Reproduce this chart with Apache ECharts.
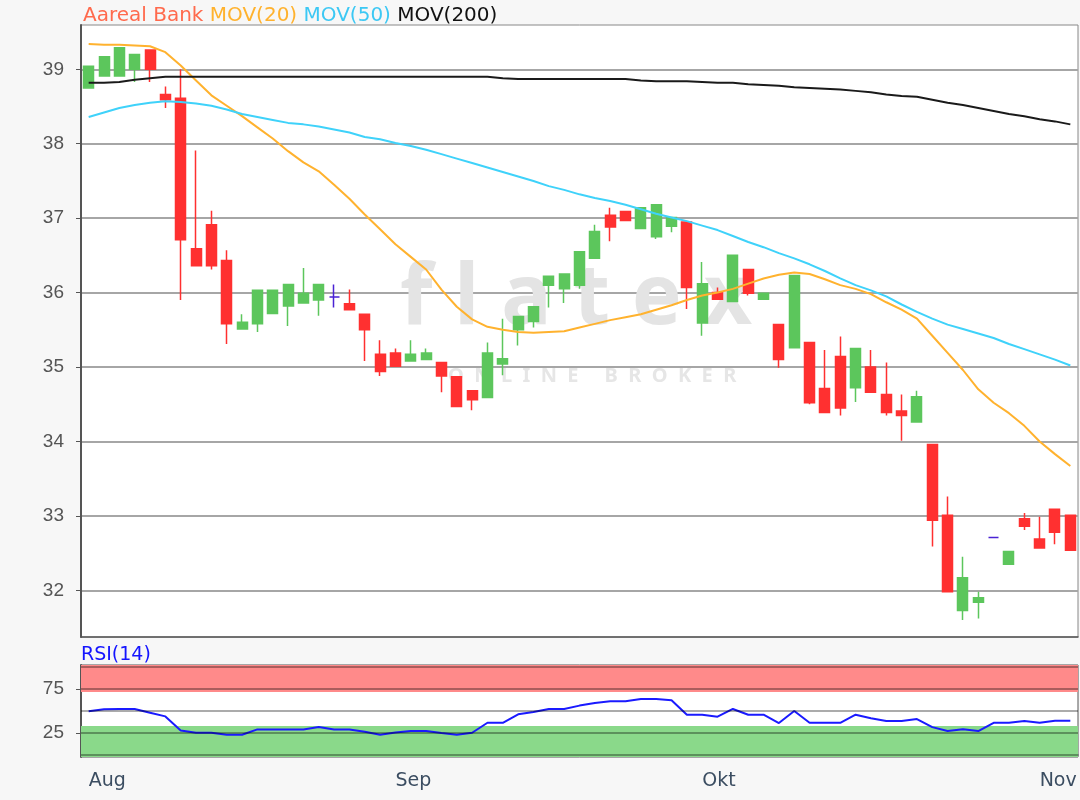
<!DOCTYPE html>
<html>
<head>
<meta charset="utf-8">
<script src="https://cdn.jsdelivr.net/npm/echarts@6/dist/echarts.min.js"></script>
<style>
  html, body { margin: 0; padding: 0; background: #f7f7f7; }
  #chart { width: 1080px; height: 800px; }
</style>
</head>
<body>
<div id="chart"></div>
<script>
// trading days shown (dd.mm.)
const dates = [
  '06.08.','07.08.','08.08.','09.08.','10.08.','13.08.','14.08.','15.08.','16.08.','17.08.',
  '20.08.','21.08.','22.08.','23.08.','24.08.','27.08.','28.08.','29.08.','30.08.','31.08.',
  '03.09.','04.09.','05.09.','06.09.','07.09.','10.09.','11.09.','12.09.','13.09.','14.09.',
  '17.09.','18.09.','19.09.','20.09.','21.09.','24.09.','25.09.','26.09.','27.09.','28.09.',
  '01.10.','02.10.','04.10.','05.10.','08.10.','09.10.','10.10.','11.10.','12.10.','15.10.',
  '16.10.','17.10.','18.10.','19.10.','22.10.','23.10.','24.10.','25.10.','26.10.','29.10.',
  '30.10.','31.10.','01.11.','02.11.','05.11.'
];
const monthNames = { '08': 'Aug', '09': 'Sep', '10': 'Okt', '11': 'Nov' };

const opens = [
  38.75, 38.91, 38.91, 39.00, 39.26, 38.66, 38.61, 36.59, 36.91, 36.43,
  35.51, 35.58, 35.72, 35.82, 35.86, 35.90, 35.94, 35.85, 35.71, 35.17,
  35.19, 35.08, 35.10, 35.06, 34.87, 34.68, 34.59, 35.04, 35.50, 35.61,
  36.10, 36.05, 36.10, 36.46, 37.04, 37.09, 36.86, 36.75, 36.89, 36.95,
  35.59, 36.00, 35.88, 36.31, 35.91, 35.57, 35.26, 35.33, 34.71, 35.14,
  34.72, 35.00, 34.63, 34.41, 34.26, 33.96, 33.01, 31.73, 31.84, 32.71,
  32.35, 32.96, 32.69, 33.09, 33.01
];
const closes = [
  39.04, 39.17, 39.29, 39.20, 39.00, 38.59, 36.71, 36.36, 36.36, 35.58,
  35.60, 36.03, 36.03, 36.11, 35.99, 36.11, 35.94, 35.77, 35.50, 34.94,
  35.01, 35.17, 35.19, 34.88, 34.47, 34.56, 35.19, 35.11, 35.68, 35.81,
  36.22, 36.25, 36.55, 36.82, 36.88, 36.97, 37.14, 37.18, 37.01, 36.07,
  36.12, 35.91, 36.50, 35.99, 35.99, 35.10, 36.23, 34.52, 34.39, 34.45,
  35.25, 34.66, 34.39, 34.35, 34.60, 32.94, 31.98, 32.17, 31.90, 32.71,
  32.52, 32.86, 32.57, 32.78, 32.54
];
const lows = [
  38.75, 38.91, 38.91, 38.83, 38.83, 38.48, 35.90, 36.36, 36.31, 35.31,
  35.51, 35.47, 35.72, 35.55, 35.86, 35.69, 35.80, 35.77, 35.08, 34.88,
  35.01, 35.08, 35.10, 34.66, 34.47, 34.42, 34.59, 34.89, 35.29, 35.53,
  35.80, 35.86, 36.05, 36.46, 36.69, 36.97, 36.86, 36.72, 36.81, 35.78,
  35.42, 35.91, 35.88, 35.96, 35.91, 34.99, 35.26, 34.50, 34.39, 34.35,
  34.53, 34.66, 34.35, 34.01, 34.26, 32.59, 31.98, 31.60, 31.62, 32.71,
  32.35, 32.81, 32.57, 32.62, 32.54
];
const highs = [
  39.04, 39.17, 39.29, 39.20, 39.26, 38.77, 39.00, 37.91, 37.10, 36.57,
  35.71, 36.03, 36.03, 36.11, 36.33, 36.11, 36.11, 36.04, 35.71, 35.36,
  35.25, 35.36, 35.25, 35.06, 34.87, 34.68, 35.33, 35.65, 35.68, 35.81,
  36.22, 36.25, 36.55, 36.91, 37.14, 37.09, 37.14, 37.18, 37.01, 36.95,
  36.41, 36.07, 36.50, 36.31, 35.99, 35.57, 36.23, 35.33, 35.23, 35.41,
  35.25, 35.23, 35.06, 34.63, 34.68, 33.96, 33.26, 32.45, 31.98, 32.71,
  32.52, 33.04, 32.99, 33.09, 33.01
];

const mov20 = [
  39.34, 39.33, 39.33, 39.32, 39.31, 39.23, 39.05, 38.85, 38.65, 38.51,
  38.37, 38.22, 38.07, 37.90, 37.75, 37.63, 37.45, 37.26, 37.05, 36.85,
  36.65, 36.48, 36.31, 36.04, 35.81, 35.64, 35.54, 35.50, 35.47, 35.46,
  35.47, 35.48, 35.53, 35.58, 35.63, 35.67, 35.71, 35.77, 35.83, 35.90,
  35.96, 36.00, 36.05, 36.12, 36.19, 36.24, 36.27, 36.25, 36.18, 36.10,
  36.05, 35.98, 35.87, 35.77, 35.65, 35.42, 35.19, 34.96, 34.70, 34.52,
  34.38, 34.21, 34.00, 33.83, 33.67
];
const mov50 = [
  38.36, 38.42, 38.48, 38.52, 38.55, 38.57, 38.56, 38.54, 38.51, 38.46,
  38.40, 38.36, 38.32, 38.28, 38.26, 38.23, 38.19, 38.15, 38.09, 38.06,
  38.01, 37.97, 37.92, 37.86, 37.80, 37.74, 37.68, 37.62, 37.56, 37.50,
  37.43, 37.38, 37.32, 37.27, 37.23, 37.18, 37.12, 37.06, 37.01, 36.96,
  36.90, 36.84, 36.76, 36.68, 36.61, 36.53, 36.46, 36.38, 36.29, 36.19,
  36.10, 36.03, 35.95, 35.84, 35.74, 35.65, 35.57, 35.51, 35.45, 35.39,
  35.31, 35.24, 35.17, 35.10, 35.02
];
const mov200 = [
  38.82, 38.82, 38.83, 38.86, 38.88, 38.90, 38.90, 38.90, 38.90, 38.90,
  38.90, 38.90, 38.90, 38.90, 38.90, 38.90, 38.90, 38.90, 38.90, 38.90,
  38.90, 38.90, 38.90, 38.90, 38.90, 38.90, 38.90, 38.88, 38.87, 38.87,
  38.87, 38.87, 38.87, 38.87, 38.87, 38.87, 38.85, 38.84, 38.84, 38.84,
  38.83, 38.82, 38.82, 38.80, 38.79, 38.78, 38.76, 38.75, 38.74, 38.73,
  38.71, 38.69, 38.66, 38.64, 38.63, 38.59, 38.55, 38.52, 38.48, 38.44,
  38.40, 38.37, 38.33, 38.30, 38.26
];
const rsi14 = [
  49.6, 51.9, 52.3, 52.3, 48.1, 43.9, 28.0, 25.4, 25.4, 23.1,
  23.1, 29.2, 29.2, 29.2, 29.2, 31.8, 29.2, 29.2, 26.5, 23.1,
  25.7, 27.3, 27.3, 25.0, 23.1, 25.4, 36.7, 36.7, 46.2, 48.9,
  52.3, 52.3, 56.1, 59.1, 61.0, 61.0, 63.6, 63.6, 62.1, 45.8,
  45.8, 43.6, 52.3, 45.8, 45.8, 36.4, 50.0, 36.7, 36.7, 36.7,
  45.8, 41.7, 38.6, 38.6, 40.9, 31.8, 27.3, 29.5, 27.3, 36.7,
  36.7, 38.6, 36.7, 39.0, 39.0
];

const priceTicks = [32, 33, 34, 35, 36, 37, 38, 39];
const priceMin = 31.373;
const priceMax = 39.595;
const rsiTicks = [25, 75];
const rsiLevels = [0, 25, 50, 75, 100];
const rsiOverbought = [71.5, 102];
const rsiOversold = [-2, 33];

const UP = '#5cc65c';
const DOWN = '#ff3030';
const FLAT = '#4a22d4';
const numFont = 'Liberation Sans';
const txtFont = 'DejaVu Sans';

function isMonthStart(i) {
    return i === 0 || dates[i].slice(3, 5) !== dates[i - 1].slice(3, 5);
}

let candles = dates.map(function(d, i) {
    let item = { value: [opens[i], closes[i], lows[i], highs[i]] };
    if (opens[i] === closes[i]) {
        item.itemStyle = { color: FLAT, color0: FLAT, borderColor: FLAT, borderColor0: FLAT };
    }
    return item;
});

let myChart = echarts.init(document.getElementById('chart'));

let option = {
    backgroundColor: '#f7f7f7',
    animation: false,
    title: [
        {
            left: 83,
            top: 6,
            padding: 0,
            text: '{a|Aareal Bank} {b|MOV(20)} {c|MOV(50)} {d|MOV(200)}',
            textStyle: {
                fontFamily: txtFont,
                fontSize: 20,
                fontWeight: 'normal',
                rich: {
                    a: { color: '#ff6a4d', fontFamily: txtFont, fontSize: 20 },
                    b: { color: '#ffb22e', fontFamily: txtFont, fontSize: 20 },
                    c: { color: '#3cc8f4', fontFamily: txtFont, fontSize: 20 },
                    d: { color: '#111111', fontFamily: txtFont, fontSize: 20 }
                }
            }
        },
        {
            left: 81,
            top: 646,
            padding: 0,
            text: 'RSI(14)',
            textStyle: { fontFamily: txtFont, fontSize: 19, fontWeight: 'normal', color: '#1414ff' }
        }
    ],
    // flatex watermark
    graphic: [
        {
            type: 'text',
            left: 400,
            top: 258,
            z: 1,
            silent: true,
            style: { text: 'f l a t e x', font: 'bold 84px "Noto Sans"', fill: '#e4e4e4' }
        },
        {
            type: 'text',
            left: 448,
            top: 366,
            z: 1,
            silent: true,
            style: { text: 'O  N  L  I  N  E     B  R  O  K  E  R', font: 'bold 20px "Noto Sans"', fill: '#e6e6e6' }
        }
    ],
    grid: [
        {
            left: 81, right: 2, top: 25, height: 612,
            show: true, backgroundColor: '#ffffff', borderColor: '#888888', borderWidth: 1
        },
        {
            left: 81, right: 2, top: 665, height: 92,
            show: true, backgroundColor: '#ffffff', borderColor: '#555555', borderWidth: 1
        }
    ],
    xAxis: [
        {
            type: 'category',
            gridIndex: 0,
            data: dates,
            axisLine: { lineStyle: { color: '#555555', width: 1.5 } },
            axisTick: { show: false },
            axisLabel: { show: false },
            splitLine: { show: false }
        },
        {
            type: 'category',
            gridIndex: 1,
            data: dates,
            axisLine: { lineStyle: { color: '#555555', width: 1.5 } },
            axisTick: {
                alignWithLabel: true,
                interval: function(i) { return isMonthStart(i); },
                length: 6,
                lineStyle: { color: '#3b4d61', width: 2 }
            },
            axisLabel: {
                interval: function(i) { return isMonthStart(i); },
                formatter: function(v) { return monthNames[v.slice(3, 5)]; },
                align: 'left',
                margin: 15,
                color: '#3b4d61',
                fontFamily: txtFont,
                fontSize: 19
            },
            splitLine: { show: false }
        }
    ],
    yAxis: [
        {
            type: 'value',
            gridIndex: 0,
            min: priceMin,
            max: priceMax,
            splitNumber: 8,
            axisLine: { show: true, lineStyle: { color: '#555555', width: 2 } },
            axisTick: { show: true, length: 5, customValues: priceTicks, lineStyle: { color: '#555555' } },
            axisLabel: {
                customValues: priceTicks,
                margin: 17,
                color: '#555555',
                fontFamily: numFont,
                fontSize: 19
            },
            splitLine: { show: true, lineStyle: { color: '#a6a6a6', width: 2 } }
        },
        {
            type: 'value',
            gridIndex: 1,
            min: -2,
            max: 102,
            axisLine: { show: true, lineStyle: { color: '#555555', width: 2 } },
            axisTick: { show: true, length: 5, customValues: rsiTicks, lineStyle: { color: '#555555' } },
            axisLabel: {
                customValues: rsiTicks,
                margin: 17,
                color: '#555555',
                fontFamily: numFont,
                fontSize: 19
            },
            splitLine: { show: false }
        }
    ],
    series: [
        {
            name: 'Aareal Bank',
            type: 'candlestick',
            xAxisIndex: 0,
            yAxisIndex: 0,
            barWidth: 10.5,
            itemStyle: {
                color: UP,
                color0: DOWN,
                borderColor: UP,
                borderColor0: DOWN,
                borderWidth: 1.5
            },
            data: candles
        },
        {
            name: 'MOV(20)',
            type: 'line',
            xAxisIndex: 0,
            yAxisIndex: 0,
            data: mov20,
            showSymbol: false,
            lineStyle: { color: '#ffb22e', width: 2 }
        },
        {
            name: 'MOV(50)',
            type: 'line',
            xAxisIndex: 0,
            yAxisIndex: 0,
            data: mov50,
            showSymbol: false,
            lineStyle: { color: '#3fd2fa', width: 2 }
        },
        {
            name: 'MOV(200)',
            type: 'line',
            xAxisIndex: 0,
            yAxisIndex: 0,
            data: mov200,
            showSymbol: false,
            lineStyle: { color: '#1a1a1a', width: 2 }
        },
        {
            name: 'RSI(14)',
            type: 'line',
            xAxisIndex: 1,
            yAxisIndex: 1,
            data: rsi14,
            showSymbol: false,
            lineStyle: { color: '#1a1aff', width: 2 },
            markArea: {
                silent: true,
                data: [
                    [{ yAxis: rsiOverbought[0], itemStyle: { color: '#ff8a8a' } }, { yAxis: rsiOverbought[1] }],
                    [{ yAxis: rsiOversold[0], itemStyle: { color: '#8ad98a' } }, { yAxis: rsiOversold[1] }]
                ]
            },
            markLine: {
                silent: true,
                symbol: 'none',
                label: { show: false },
                lineStyle: { color: 'rgba(0,0,0,0.33)', width: 2, type: 'solid' },
                data: rsiLevels.map(function(v) { return { yAxis: v }; })
            }
        }
    ]
};

if (option && typeof option === 'object') {
    myChart.setOption(option, true);
}
</script>
</body>
</html>
